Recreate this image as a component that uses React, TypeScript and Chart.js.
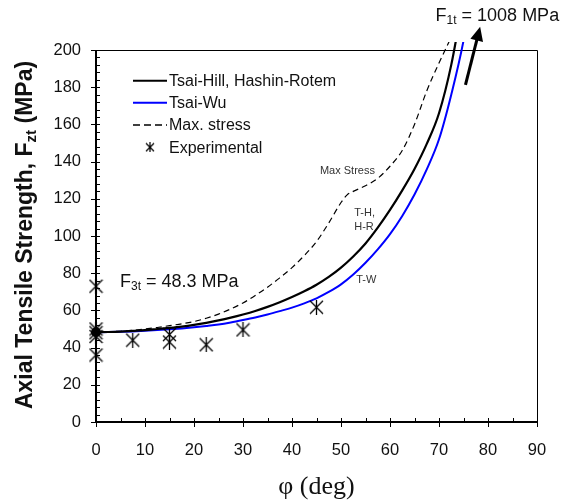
import React, { useEffect, useRef } from "react";
import { Chart, registerables } from "chart.js";
Chart.register(...registerables);

// Tsai-Hill / Hashin-Rotem curve
const thAngles = [0, 2.5, 5, 7.5, 10, 12.5, 15, 17.5, 20, 22.5, 25, 27.5, 30, 32.5, 35, 37.5, 40, 42.5, 45, 47.5, 50, 52.5, 55, 57.5, 60, 62.5, 65, 67.5, 70, 72.5, 75];
const thValues = [48.3, 48.4, 48.6, 49, 49.4, 50, 50.6, 51.3, 52.2, 53.3, 54.6, 56.1, 57.8, 59.7, 61.9, 64.4, 67.2, 70.3, 73.8, 78, 83, 89, 96, 104.5, 114, 124.5, 136, 149.5, 166, 192, 228];
// Tsai-Wu curve
const twAngles = [0, 2.5, 5, 7.5, 10, 12.5, 15, 17.5, 20, 22.5, 25, 27.5, 30, 32.5, 35, 37.5, 40, 42.5, 45, 47.5, 50, 52.5, 55, 57.5, 60, 62.5, 65, 67.5, 70, 72.5, 75, 77.5];
const twValues = [48.3, 48.35, 48.5, 48.7, 49, 49.4, 49.8, 50.3, 50.9, 51.6, 52.4, 53.5, 54.8, 56.2, 57.8, 59.6, 61.5, 63.8, 66.5, 69.9, 74, 79.3, 85.6, 92.8, 101, 110.8, 122.3, 135.8, 152, 176, 205, 245];
// Max stress curve
const msAngles = [0, 2.5, 5, 7.5, 10, 12.5, 15, 17.5, 20, 22.5, 25, 27.5, 30, 32.5, 35, 37.5, 40, 42.5, 45, 47.5, 50, 51.2, 52.5, 55, 57.5, 60, 62.5, 65, 67.5, 70, 72.5, 75];
const msValues = [48.3, 48.5, 48.8, 49.3, 50, 50.8, 51.8, 52.8, 54, 55.8, 58, 60.8, 64, 68, 72.5, 77.5, 83, 89.5, 97, 107, 118, 122, 124, 127, 131, 137.5, 146, 160, 178, 193, 207, 222];
// Experimental points
const expAngles = [0, 0, 0, 0, 0, 7.5, 15, 15, 22.5, 30, 45];
const expValues = [73, 50, 48, 46, 36, 44, 47, 43, 41.5, 49.5, 61.7];

const seriesLabels = ["Tsai-Hill, Hashin-Rotem", "Tsai-Wu", "Max. stress", "Experimental"];
const xTitle = "φ (deg)";
const xMin = 0, xMax = 90, xStep = 10, xMinor = 5;
const yMin = 0, yMax = 200, yStep = 20, yMinor = 4;

const SANS = "'Liberation Sans', Arial, Helvetica, sans-serif";
const SERIF = "'Liberation Serif', 'Times New Roman', serif";

function zip(xs: number[], ys: number[]) {
  return xs.map((x, i) => ({ x, y: ys[i] }));
}

function makeMarker(size: number, lw: number) {
  const c = document.createElement("canvas");
  c.width = size;
  c.height = size;
  const g = c.getContext("2d")!;
  g.strokeStyle = "#000";
  g.lineWidth = lw;
  const m = 1;
  g.beginPath();
  g.moveTo(m, m);
  g.lineTo(size - m, size - m);
  g.moveTo(size - m, m);
  g.lineTo(m, size - m);
  g.moveTo(size / 2, 0);
  g.lineTo(size / 2, size);
  g.stroke();
  return c;
}

function drawSubText(ctx: CanvasRenderingContext2D, x: number, y: number, main: string, sub: string, rest: string, size: number, subSize: number, bold: boolean, subDrop: number) {
  const w = bold ? "bold " : "";
  ctx.font = `${w}${size}px ${SANS}`;
  ctx.fillText(main, x, y);
  let cx = x + ctx.measureText(main).width;
  ctx.font = `${w}${subSize}px ${SANS}`;
  ctx.fillText(sub, cx, y + subDrop);
  cx += ctx.measureText(sub).width;
  ctx.font = `${w}${size}px ${SANS}`;
  ctx.fillText(rest, cx, y);
}

export default function App() {
  const ref = useRef<HTMLCanvasElement | null>(null);

  useEffect(() => {
    if (!ref.current) return;
    const marker = makeMarker(15, 1.3);
    const legendMarker = makeMarker(10, 1.2);

    const overlay = {
      id: "overlay",
      beforeDatasetsDraw(chart: any) {
        const ctx = chart.ctx as CanvasRenderingContext2D;
        const { left, right, top, bottom } = chart.chartArea;
        const xs = chart.scales.x;
        const ys = chart.scales.y;
        ctx.save();
        ctx.strokeStyle = "#000";
        ctx.lineWidth = 1;
        ctx.beginPath();
        ctx.moveTo(left, top + 0.5);
        ctx.lineTo(right + 0.5, top + 0.5);
        ctx.lineTo(right + 0.5, bottom);
        ctx.stroke();
        ctx.beginPath();
        for (let v = yMin; v <= yMax + 1e-9; v += yMinor) {
          const py = Math.round(ys.getPixelForValue(v)) + 0.5;
          const major = Math.abs(v / yStep - Math.round(v / yStep)) < 1e-6;
          ctx.moveTo(major ? left - 5 : left, py);
          ctx.lineTo(left + 4, py);
        }
        for (let v = xMin; v <= xMax + 1e-9; v += xMinor) {
          const px = Math.round(xs.getPixelForValue(v)) + 0.5;
          const major = Math.abs(v / xStep - Math.round(v / xStep)) < 1e-6;
          ctx.moveTo(px, bottom - 4);
          ctx.lineTo(px, major ? bottom + 5 : bottom);
        }
        ctx.stroke();
        ctx.lineWidth = 2;
        ctx.beginPath();
        ctx.moveTo(left, top);
        ctx.lineTo(left, bottom + 1);
        ctx.moveTo(left - 1, bottom);
        ctx.lineTo(right + 1, bottom);
        ctx.stroke();
        ctx.restore();
      },
      afterDraw(chart: any) {
        const ctx = chart.ctx as CanvasRenderingContext2D;
        const xs = chart.scales.x;
        const ys = chart.scales.y;
        const X = (v: number) => xs.getPixelForValue(v);
        const Y = (v: number) => ys.getPixelForValue(v);
        ctx.save();
        ctx.fillStyle = "#111";
        ctx.textAlign = "left";

        // Y title
        ctx.save();
        ctx.translate(32, 235);
        ctx.rotate(-Math.PI / 2);
        ctx.textBaseline = "alphabetic";
        const ts = 23, tss = 15;
        ctx.font = `bold ${ts}px ${SANS}`;
        const p1 = "Axial Tensile Strength, F";
        const p3 = " (MPa)";
        const w1 = ctx.measureText(p1).width;
        const w3 = ctx.measureText(p3).width;
        ctx.font = `bold ${tss}px ${SANS}`;
        const w2 = ctx.measureText("zt").width;
        const total = w1 + w2 + w3;
        drawSubText(ctx, -total / 2, 0, p1, "zt", p3, ts, tss, true, 4);
        ctx.restore();

        // X title
        ctx.font = `26px ${SERIF}`;
        ctx.textAlign = "center";
        ctx.textBaseline = "middle";
        ctx.fillText(xTitle, (chart.chartArea.left + chart.chartArea.right) / 2, 487);
        ctx.textAlign = "left";

        // Legend
        const rows = [80.7, 102.7, 125, 147.3];
        const lx0 = 133, lx1 = 167;
        ctx.textBaseline = "middle";
        ctx.font = `16px ${SANS}`;
        ctx.lineWidth = 2;
        ctx.strokeStyle = "#000";
        ctx.beginPath(); ctx.moveTo(lx0, rows[0]); ctx.lineTo(lx1, rows[0]); ctx.stroke();
        ctx.strokeStyle = "#0000ff";
        ctx.beginPath(); ctx.moveTo(lx0, rows[1]); ctx.lineTo(lx1, rows[1]); ctx.stroke();
        ctx.strokeStyle = "#000";
        ctx.lineWidth = 1.5;
        ctx.setLineDash([7, 4]);
        ctx.beginPath(); ctx.moveTo(lx0, rows[2]); ctx.lineTo(lx1, rows[2]); ctx.stroke();
        ctx.setLineDash([]);
        ctx.drawImage(legendMarker, 150 - 5, rows[3] - 5);
        for (let i = 0; i < 4; i++) {
          ctx.fillText(seriesLabels[i], 169, rows[i] + 1);
        }

        // Curve labels
        ctx.fillStyle = "#333";
        ctx.font = `11px ${SANS}`;
        ctx.fillText("Max Stress", X(45.7), Y(135));
        ctx.fillText("T-H,", X(52.7), Y(112.5));
        ctx.fillText("H-R", X(52.7), Y(104.7));
        ctx.fillText("T-W", X(53.1), Y(76.3));

        // annotations
        ctx.fillStyle = "#111";
        drawSubText(ctx, X(4.9), Y(75.4), "F", "3t", " = 48.3 MPa", 18, 12, false, 5);
        drawSubText(ctx, X(69.3), Y(218.3), "F", "1t", " = 1008 MPa", 18, 12, false, 5);

        // Arrow
        const ax0 = X(75.4), ay0 = Y(181.2);
        const ax1 = X(78.4), ay1 = Y(212.5);
        const dx = ax1 - ax0, dy = ay1 - ay0;
        const len = Math.hypot(dx, dy);
        const ux = dx / len, uy = dy / len;
        const hl = 14, hw = 6.5;
        const bx = ax1 - ux * hl, by = ay1 - uy * hl;
        ctx.strokeStyle = "#000";
        ctx.fillStyle = "#000";
        ctx.lineWidth = 3;
        ctx.beginPath();
        ctx.moveTo(ax0, ay0);
        ctx.lineTo(bx + ux * 2, by + uy * 2);
        ctx.stroke();
        ctx.beginPath();
        ctx.moveTo(ax1, ay1);
        ctx.lineTo(bx - uy * hw, by + ux * hw);
        ctx.lineTo(bx + uy * hw, by - ux * hw);
        ctx.closePath();
        ctx.fill();
        ctx.restore();
      },
    };

    const curveClip = { left: 10, top: 8, right: 10, bottom: 10 };

    const chart = new Chart(ref.current, {
      type: "line",
      data: {
        datasets: [
          {
            label: seriesLabels[0],
            data: zip(thAngles, thValues),
            borderColor: "#000",
            backgroundColor: "#000",
            borderWidth: 2.2,
            pointRadius: (c: any) => (c.dataIndex === 0 ? 5 : 0),
            pointBackgroundColor: "#000",
            pointBorderWidth: 0,
            cubicInterpolationMode: "monotone",
            clip: curveClip,
            order: 2,
          },
          {
            label: seriesLabels[1],
            data: zip(twAngles, twValues),
            borderColor: "#0000ff",
            backgroundColor: "#0000ff",
            borderWidth: 2,
            pointRadius: 0,
            cubicInterpolationMode: "monotone",
            clip: curveClip,
            order: 3,
          },
          {
            label: seriesLabels[2],
            data: zip(msAngles, msValues),
            borderColor: "#000",
            backgroundColor: "#000",
            borderWidth: 1.2,
            borderDash: [6, 4],
            pointRadius: 0,
            cubicInterpolationMode: "monotone",
            clip: curveClip,
            order: 4,
          },
          {
            label: seriesLabels[3],
            data: zip(expAngles, expValues),
            showLine: false,
            pointStyle: marker as any,
            pointRadius: 7,
            borderColor: "#000",
            clip: false,
            order: 1,
          },
        ],
      } as any,
      options: {
        responsive: false,
        animation: false,
        devicePixelRatio: 1,
        layout: { padding: { top: 50, right: 44, left: 0, bottom: 0 } },
        plugins: { legend: { display: false }, tooltip: { enabled: false } },
        scales: {
          x: {
            type: "linear",
            min: xMin,
            max: xMax,
            grid: { display: false, drawTicks: false },
            border: { display: false },
            ticks: { stepSize: xStep, color: "#111", padding: 19, font: { family: SANS, size: 16.5 }, maxRotation: 0 },
            afterFit: (s: any) => { s.height = 82; },
          },
          y: {
            type: "linear",
            min: yMin,
            max: yMax,
            grid: { display: false, drawTicks: false },
            border: { display: false },
            ticks: { stepSize: yStep, color: "#111", padding: 15, font: { family: SANS, size: 16.5 } },
            afterFit: (s: any) => { s.width = 96; },
          },
        },
      } as any,
      plugins: [overlay],
    });
    return () => chart.destroy();
  }, []);

  return (
    <div style={{ position: "absolute", left: 0, top: 0, width: 581, height: 504, background: "#fff" }}>
      <canvas ref={ref} width={581} height={504} style={{ display: "block" }} />
    </div>
  );
}
